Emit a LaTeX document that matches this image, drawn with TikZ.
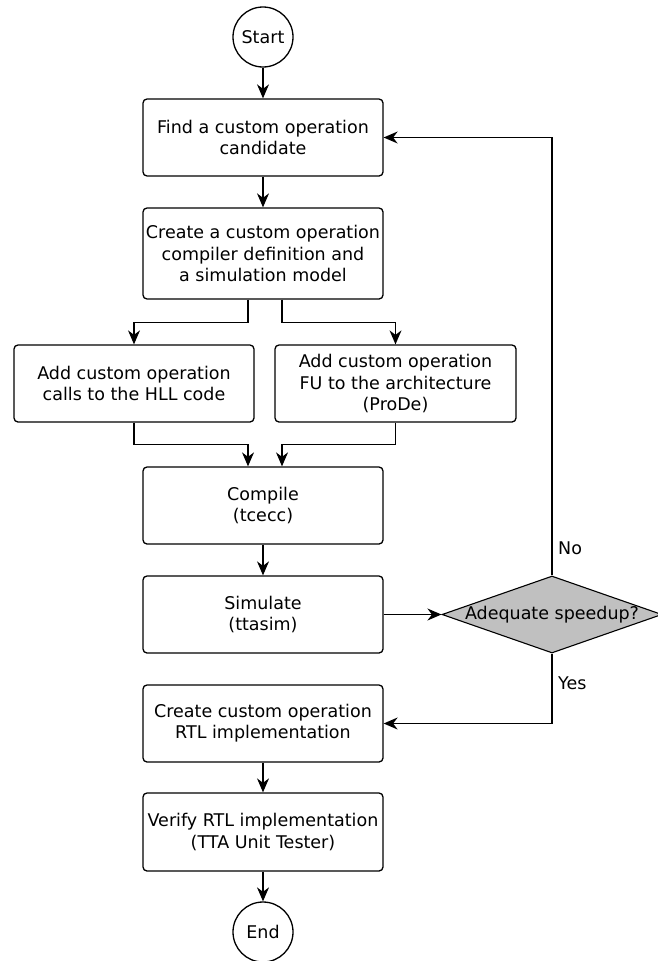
\documentclass[tikz,border=0pt]{standalone}
\usepackage{fontspec}
\setmainfont{DejaVu Sans}
\usetikzlibrary{arrows.meta,shapes.geometric}
\definecolor{decisiongray}{RGB}{192,192,192}
\begin{document}
\begin{tikzpicture}[x=1pt,y=-1pt,
  every node/.style={font=\fontsize{17.5}{21.3}\selectfont},
  proc/.style={draw, line width=1.3pt, rounded corners=4pt, minimum width=240pt,
    minimum height=77pt, align=center, inner sep=0pt},
  term/.style={draw, circle, line width=1.3pt, minimum size=60pt, inner sep=0pt},
  decision/.style={draw, diamond, fill=decisiongray, line width=1.1pt,
    minimum width=220pt, minimum height=77pt, inner sep=0pt},
  flow/.style={line width=1.3pt, -{Stealth[length=14pt,width=12pt,inset=4.5pt]}},
  branchlabel/.style={anchor=base west, inner sep=0pt}
]
\useasboundingbox (0,0) rectangle (657,961);

% process steps
\node[term] (start) at (263,37) {Start};
\node[proc] (find) at (263,137.5) {Find a custom operation\\candidate};
\node[proc, minimum height=91pt] (create) at (263,253.5)
  {Create a custom operation\\compiler definition and\\a simulation model};
\node[proc] (hll) at (134,383.5) {Add custom operation\\calls to the HLL code};
\node[proc, minimum width=241pt] (fu) at (395.5,383.5)
  {Add custom operation\\FU to the architecture\\(ProDe)};
\node[proc] (compile) at (263,505.5) {Compile\\(tcecc)};
\node[proc] (sim) at (263,614.5) {Simulate\\(ttasim)};
\node[decision] (dec) at (552,614.5) {\makebox[0pt]{Adequate speedup?}};
\node[proc] (rtl) at (263,723.5) {Create custom operation\\RTL implementation};
\node[proc, minimum height=78pt] (verify) at (263,832)
  {Verify RTL implementation\\(TTA Unit Tester)};
\node[term] (end) at (263,932) {End};

% branch labels
\node[branchlabel] (nolabel) at (558,554) {No};
\node[branchlabel] (yeslabel) at (558,689) {Yes};

% connectors
\draw[flow] (start) -- (find);
\draw[flow] (find) -- (create);
\draw[flow] ([xshift=-15pt]create.south) -- ++(0,23) -| (hll.north);
\draw[flow] ([xshift=19pt]create.south) -- ++(0,23) -| (fu.north);
\draw[flow] (hll.south) -- ++(0,22) -| ([xshift=-15pt]compile.north);
\draw[flow] (fu.south) -- ++(0,22) -| ([xshift=19pt]compile.north);
\draw[flow] (compile) -- (sim);
\draw[flow] (sim.east) -- (dec.west);
\draw[flow] (dec.north) |- (find.east);
\draw[flow] (dec.south) |- (rtl.east);
\draw[flow] (rtl) -- (verify);
\draw[flow] (verify) -- (end);
\end{tikzpicture}
\end{document}
